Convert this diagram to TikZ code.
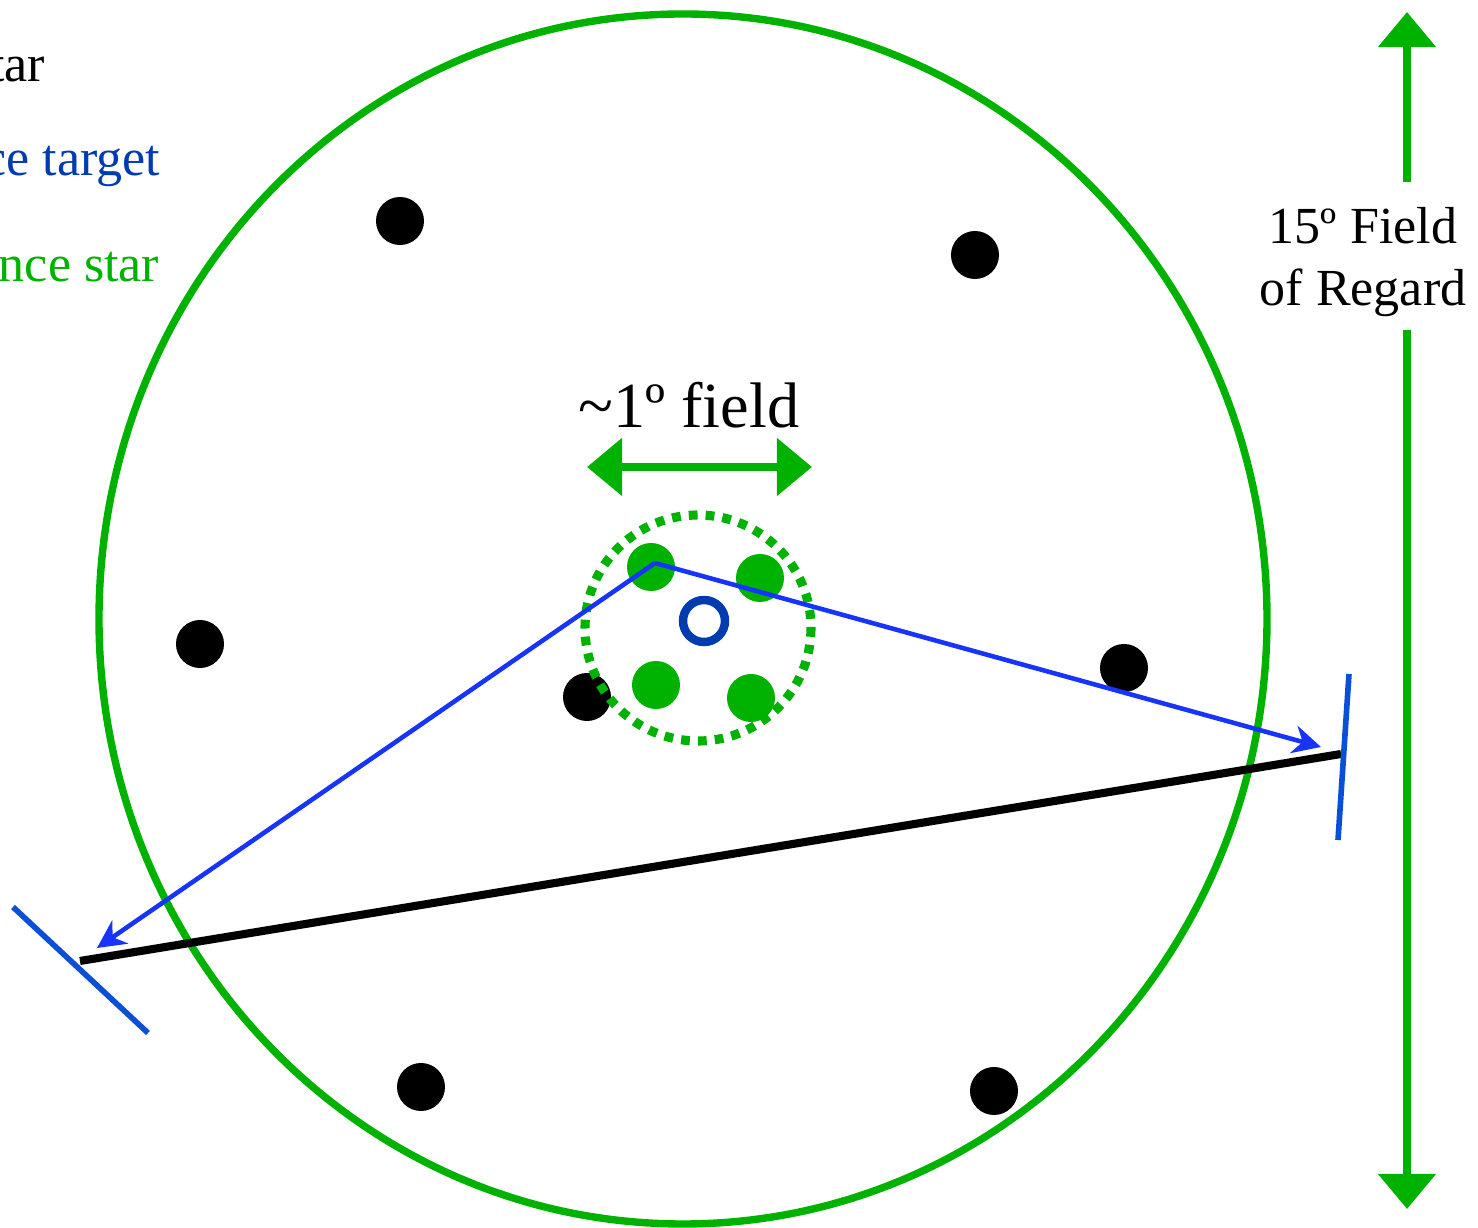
\documentclass[tikz,border=0pt]{standalone}
\usepackage{fontspec}
\setmainfont{Liberation Serif}
\usetikzlibrary{arrows.meta,calc,positioning}
\definecolor{FRGreen}{RGB}{0,178,0}
\definecolor{FRBlue}{RGB}{22,52,250}
\definecolor{FRTick}{RGB}{10,80,215}
\definecolor{FRNavy}{RGB}{0,60,175}
\tikzset{
  frgreen/.style  ={draw=FRGreen, line width=2.1pt},
  frarrow/.style  ={draw=FRGreen, line width=2.3pt, -{Triangle[length=10pt,width=16pt]}},
  bgstar/.style   ={circle, fill=black, inner sep=0pt, minimum size=0.48cm},
  refstar/.style  ={circle, fill=FRGreen, inner sep=0pt, minimum size=0.48cm},
  target/.style   ={circle, draw=FRNavy, line width=2.4pt, inner sep=0pt, minimum size=0.42cm},
  slew/.style     ={draw=FRBlue, line width=1.3pt, -{Stealth[length=8pt,width=8pt]}},
  tick/.style     ={draw=FRTick, line width=1.6pt},
  lbl/.style      ={font=\fontsize{14.8}{17.6}\selectfont},
}

\begin{document}
\begin{tikzpicture}[
  x=0.01cm,y=-0.01cm,
  line cap=butt,
  line join=round
]
\useasboundingbox (0,0) rectangle (1478,1228);

% --- Legend (cut at the left edge) ----------------------------------------
\node[lbl, anchor=base east, inner sep=0pt] (legbg)  at (46,82)   {tar};
\node[lbl, anchor=base east, inner sep=0pt, text=FRNavy] (legsci) at (161,176) {ce target};
\node[lbl, anchor=base east, inner sep=0pt, text=FRGreen] (legref) at (160,282) {nce star};

% --- Field of regard ------------------------------------------------------
\draw[frgreen] (683,619) ellipse (584 and 605);

% --- Background stars -----------------------------------------------------
\node[bgstar] (bg1) at (400,221)  {};
\node[bgstar] (bg2) at (975,255)  {};
\node[bgstar] (bg3) at (200,644)  {};
\node[bgstar] (bg4) at (1124,668) {};
\node[bgstar] (bg5) at (587,697)  {};
\node[bgstar] (bg6) at (421,1087) {};
\node[bgstar] (bg7) at (994,1091) {};

% --- ~1 deg field -----------------------------------------------------------
\draw[draw=FRGreen, line width=2.6pt, dash pattern=on 2.5pt off 2.3pt]
  (698,628) circle (113);

\node[refstar] (ref1) at (651,567) {};
\node[refstar] (ref2) at (760,578) {};
\node[refstar] (ref3) at (656,685) {};
\node[refstar] (ref4) at (751,698) {};
\node[target]  (sci)  at (704,621) {};

\coordinate (fldL) at (587,467);
\coordinate (fldR) at (812,467);
\coordinate (fldM) at (699,467);
\draw[frarrow] (fldM) -- (fldL);
\draw[frarrow] (fldM) -- (fldR);
\node[anchor=base, inner sep=0pt, font=\fontsize{18.3}{22}\selectfont] (fldlbl) at (689,428)
  {\textasciitilde1º field};

% --- Slew: black baseline, blue ticks, blue arrows ------------------------
\coordinate (endL) at (80,961);
\coordinate (endR) at (1341,754);
\draw[line width=2.3pt] (endL) -- (endR);

\coordinate (tickLa) at (13,907);
\coordinate (tickLb) at (148,1033);
\coordinate (tickRa) at (1349,674);
\coordinate (tickRb) at (1338,840);
\draw[tick] (tickLa) -- (tickLb);
\draw[tick] (tickRa) -- (tickRb);

\coordinate (pivot) at (655,563);
\coordinate (tipL)  at (97,948);
\coordinate (tipR)  at (1321,747);
\draw[slew] (pivot) -- (tipL);
\draw[slew] (pivot) -- (tipR);

% --- 15 deg arrow ---------------------------------------------------------
\node[lbl, align=center, inner sep=0pt] (forlbl) at (1363,262)
  {15º Field\\of Regard};
\coordinate (forup)   at (1407,182);
\coordinate (fortop)  at (1407,12);
\coordinate (fordown) at (1407,330);
\coordinate (forbot)  at (1407,1209);
\draw[frarrow] (forup) -- (fortop);
\draw[frarrow] (fordown) -- (forbot);

\end{tikzpicture}
\end{document}
